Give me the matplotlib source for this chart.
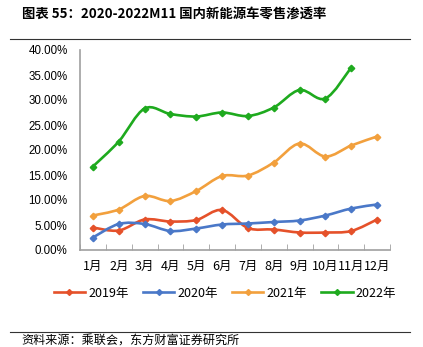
import numpy as np
import matplotlib
matplotlib.use("Agg")
from matplotlib import pyplot as plt
from matplotlib.path import Path
from matplotlib.patches import PathPatch
from matplotlib.lines import Line2D

plt.rcParams['font.family'] = ['Noto Sans CJK SC', 'DejaVu Sans']

# 数据
months = ['1月', '2月', '3月', '4月', '5月', '6月', '7月', '8月', '9月', '10月', '11月', '12月']
y2019 = [4.5, 3.9, 6.1, 5.7, 6.0, 8.0, 4.4, 4.1, 3.5, 3.5, 3.8, 6.1]
y2020 = [2.5, 5.2, 5.2, 3.8, 4.3, 5.1, 5.3, 5.6, 5.9, 6.9, 8.3, 9.1]
y2021 = [6.9, 8.1, 10.8, 9.8, 11.8, 14.8, 14.9, 17.5, 21.3, 18.7, 20.9, 22.7]
y2022 = [16.7, 21.7, 28.3, 27.2, 26.7, 27.5, 26.8, 28.5, 32.0, 30.3, 36.5]
series_names = ['2019年', '2020年', '2021年', '2022年']
colors = ['#E5512A', '#4A78C8', '#F2A03D', '#1EAA1E']
yticks = [0, 5, 10, 15, 20, 25, 30, 35, 40]


def smooth_path(xs, ys, t=1.0 / 6):
    # Excel 平滑线: Catmull-Rom 转 Bezier
    xs = np.asarray(xs, float)
    ys = np.asarray(ys, float)
    n = len(xs)
    verts = [(xs[0], ys[0])]
    codes = [Path.MOVETO]
    for i in range(n - 1):
        p0 = (xs[max(i - 1, 0)], ys[max(i - 1, 0)])
        p1 = (xs[i], ys[i])
        p2 = (xs[i + 1], ys[i + 1])
        p3 = (xs[min(i + 2, n - 1)], ys[min(i + 2, n - 1)])
        c1 = (p1[0] + (p2[0] - p0[0]) * t, p1[1] + (p2[1] - p0[1]) * t)
        c2 = (p2[0] - (p3[0] - p1[0]) * t, p2[1] - (p3[1] - p1[1]) * t)
        verts += [c1, c2, p2]
        codes += [Path.CURVE4] * 3
    return Path(verts, codes)


fig = plt.figure(figsize=(4.23, 3.47), dpi=100)
ax = fig.add_axes([80 / 423, 97 / 347, 310 / 423, 200 / 347])

data = [y2019, y2020, y2021, y2022]
for vals, c in zip(data, colors):
    x = np.arange(len(vals))
    ax.add_patch(PathPatch(smooth_path(x, vals), fill=False, edgecolor=c, lw=1.9,
                           capstyle='round', joinstyle='round', zorder=3))
    ax.plot(x, vals, ls='none', marker='D', ms=3.3, color=c, zorder=4)

ax.set_xlim(-0.5, 11.5)
ax.set_ylim(0, 40)
ax.set_yticks(yticks)
ax.set_yticklabels(['%.2f%%' % v for v in yticks], fontsize=8.3, family='Liberation Sans')
ax.set_xticks(np.arange(12))
ax.set_xticklabels(months, fontsize=9)
ax.set_xticks(np.arange(-0.5, 12, 1), minor=True)
ax.tick_params(axis='x', which='major', length=0, pad=7)
ax.tick_params(axis='x', which='minor', direction='in', length=4, color='#A0A0A0')
ax.tick_params(axis='y', length=0, pad=9)
for s in ['top', 'right']:
    ax.spines[s].set_visible(False)
for s in ['left', 'bottom']:
    ax.spines[s].set_color('#A0A0A0')
    ax.spines[s].set_linewidth(1.2)

handles = [Line2D([0], [0], color=c, lw=1.9, marker='D', ms=3) for c in colors]
fig.legend(handles, series_names, loc='center', bbox_to_anchor=(225 / 423, 54 / 347), ncol=4,
           frameon=False, fontsize=9, handlelength=2.5, columnspacing=1.15, handletextpad=0.25)

fig.text(22 / 423, 1 - 14 / 347, '图表 55：2020-2022M11 国内新能源车零售渗透率', fontsize=9.6,
         fontweight='bold', va='center', ha='left')
fig.add_artist(Line2D([10 / 423, 410 / 423], [1 - 39 / 347] * 2, color='#333333', lw=0.8))
fig.add_artist(Line2D([10 / 423, 410 / 423], [1 - 332 / 347] * 2, color='#333333', lw=0.8))
fig.text(21 / 423, 1 - 341 / 347, '资料来源：乘联会，东方财富证券研究所', fontsize=8.7,
         va='center', ha='left')

fig.savefig('out.png', dpi=100)
